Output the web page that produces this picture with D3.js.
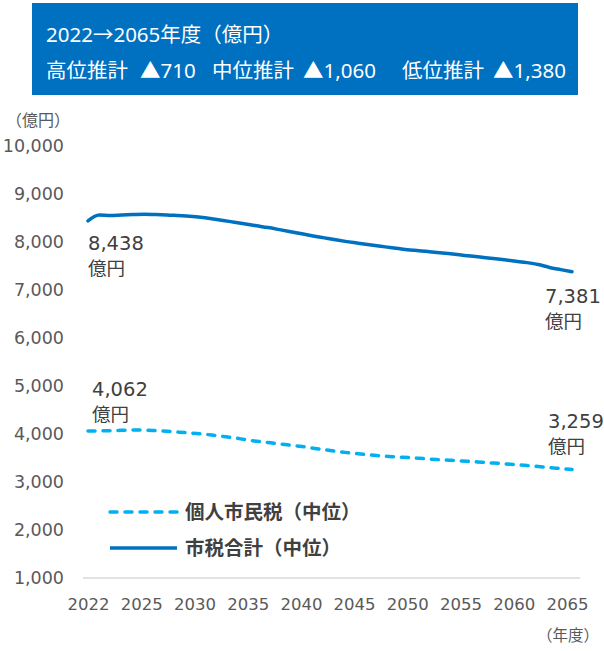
<!DOCTYPE html>
<html><head><meta charset="utf-8">
<script src="https://cdn.jsdelivr.net/npm/d3@7"></script>
<style>
html,body{margin:0;padding:0;background:#fff;}
svg{display:block;}
</style></head>
<body><svg id="c" width="604" height="651"></svg>
<script>
const years = d3.range(2022, 2066);
const totalTax = [8438,8560,8550,8565,8575,8580,8575,8565,8550,8535,8515,8485,8450,8412,8374,8337,8300,8258,8215,8170,8127,8086,8045,8008,7975,7943,7912,7880,7851,7827,7805,7783,7759,7733,7706,7681,7656,7630,7600,7570,7530,7470,7425,7381];
const residentTax = [4062,4065,4070,4078,4082,4080,4070,4058,4040,4022,4002,3978,3950,3920,3882,3848,3822,3795,3767,3740,3705,3672,3640,3612,3590,3565,3545,3528,3515,3500,3485,3468,3455,3442,3428,3412,3395,3380,3362,3343,3323,3300,3280,3259];
const xLabels = ["2022","2025","2030","2035","2040","2045","2050","2055","2060","2065"];
const yTicks = [1000,2000,3000,4000,5000,6000,7000,8000,9000,10000];
const seriesNames = ["個人市民税（中位）","市税合計（中位）"];
const headerLine1 = "2022→2065年度（億円）";
const headerParts = ["高位推計","▲710","中位推計","▲1,060","低位推計","▲1,380"];
const unitY = "（億円）";
const unitX = "（年度）";
const unitVal = "億円";

const svg = d3.select("#c");
const JP = "'Noto Sans','Noto Sans CJK JP',sans-serif";
const NUM = "'DejaVu Sans',sans-serif";
const grey = "#595959";

// header box
svg.append("rect").attr("x",32).attr("y",3).attr("width",546).attr("height",92).attr("fill","#0070C0");
svg.append("text").attr("x",46).attr("y",42).attr("fill","#fff").attr("font-family",JP).attr("font-size",20.5).text(headerLine1);
const hx = [46,140,212,303,402,493];
const ht = svg.append("text").attr("y",78).attr("fill","#fff").attr("font-family",JP).attr("font-size",20.5);
headerParts.forEach((p,i)=>ht.append("tspan").attr("x",hx[i]).text(p));

const y = d3.scaleLinear().domain([1000,10000]).range([578,146]);
const x = d3.scaleLinear().domain([2022,2065]).range([88,572]);
const xl = d3.scalePoint().domain(xLabels).range([88,567]);

// y axis labels
const yAxis = d3.axisLeft(y).tickValues(yTicks).tickFormat(d3.format(",")).tickSize(0).tickPadding(0);
const gy = svg.append("g").attr("transform","translate(64,0)").call(yAxis);
gy.select(".domain").remove();
gy.selectAll("text").attr("fill",grey).attr("font-family",NUM).attr("font-size",17.5);

svg.append("text").attr("x",6).attr("y",126).attr("fill",grey).attr("font-family",JP).attr("font-size",16).text(unitY);

// baseline
svg.append("line").attr("x1",83).attr("x2",580).attr("y1",y(1000)).attr("y2",y(1000)).attr("stroke","#d9d9d9").attr("stroke-width",1.5);

// x axis labels
const xAxis = d3.axisBottom(xl).tickSize(0).tickPadding(0);
const gx = svg.append("g").attr("transform","translate(0,598)").call(xAxis);
gx.select(".domain").remove();
gx.selectAll("text").attr("fill",grey).attr("font-family",NUM).attr("font-size",16.5).attr("dy","0.71em");
svg.append("text").attr("x",599).attr("y",641).attr("text-anchor","end").attr("fill",grey).attr("font-family",JP).attr("font-size",15.5).text(unitX);

const line = d3.line().x((d,i)=>x(years[i])).y(d=>y(d)).curve(d3.curveMonotoneX);

svg.append("path").datum(residentTax).attr("d",line).attr("fill","none")
  .attr("stroke","#00B0F0").attr("stroke-width",3.5).attr("stroke-dasharray","7 8").attr("stroke-linecap","round");
svg.append("path").datum(totalTax).attr("d",line).attr("fill","none")
  .attr("stroke","#0070C0").attr("stroke-width",3.5).attr("stroke-linecap","round");

// annotations
const fmt = d3.format(",");
const ann = [
  {v: totalTax[0], x: 88, y1: 250},
  {v: totalTax[totalTax.length-1], x: 545, y1: 303},
  {v: residentTax[0], x: 92, y1: 396},
  {v: residentTax[residentTax.length-1], x: 548, y1: 428}
];
ann.forEach(a=>{
  svg.append("text").attr("x",a.x).attr("y",a.y1).attr("fill","#404040").attr("font-family",NUM).attr("font-size",19.5).text(fmt(a.v));
  svg.append("text").attr("x",a.x).attr("y",a.y1+25).attr("fill","#404040").attr("font-family",JP).attr("font-size",18.5).text(unitVal);
});

// legend
const lg = [{name:seriesNames[0], y:512, color:"#00B0F0", dash:"7 8"},{name:seriesNames[1], y:548, color:"#0070C0", dash:null}];
lg.forEach(l=>{
  const ln = svg.append("line").attr("x1",110).attr("x2",177).attr("y1",l.y).attr("y2",l.y)
    .attr("stroke",l.color).attr("stroke-width",3.5).attr("stroke-linecap", l.dash?"round":"butt");
  if(l.dash) ln.attr("stroke-dasharray",l.dash);
  svg.append("text").attr("x",185).attr("y",l.y+7).attr("fill","#404040").attr("font-family",JP)
    .attr("font-weight","bold").attr("font-size",19.5).text(l.name);
});
</script></body></html>
